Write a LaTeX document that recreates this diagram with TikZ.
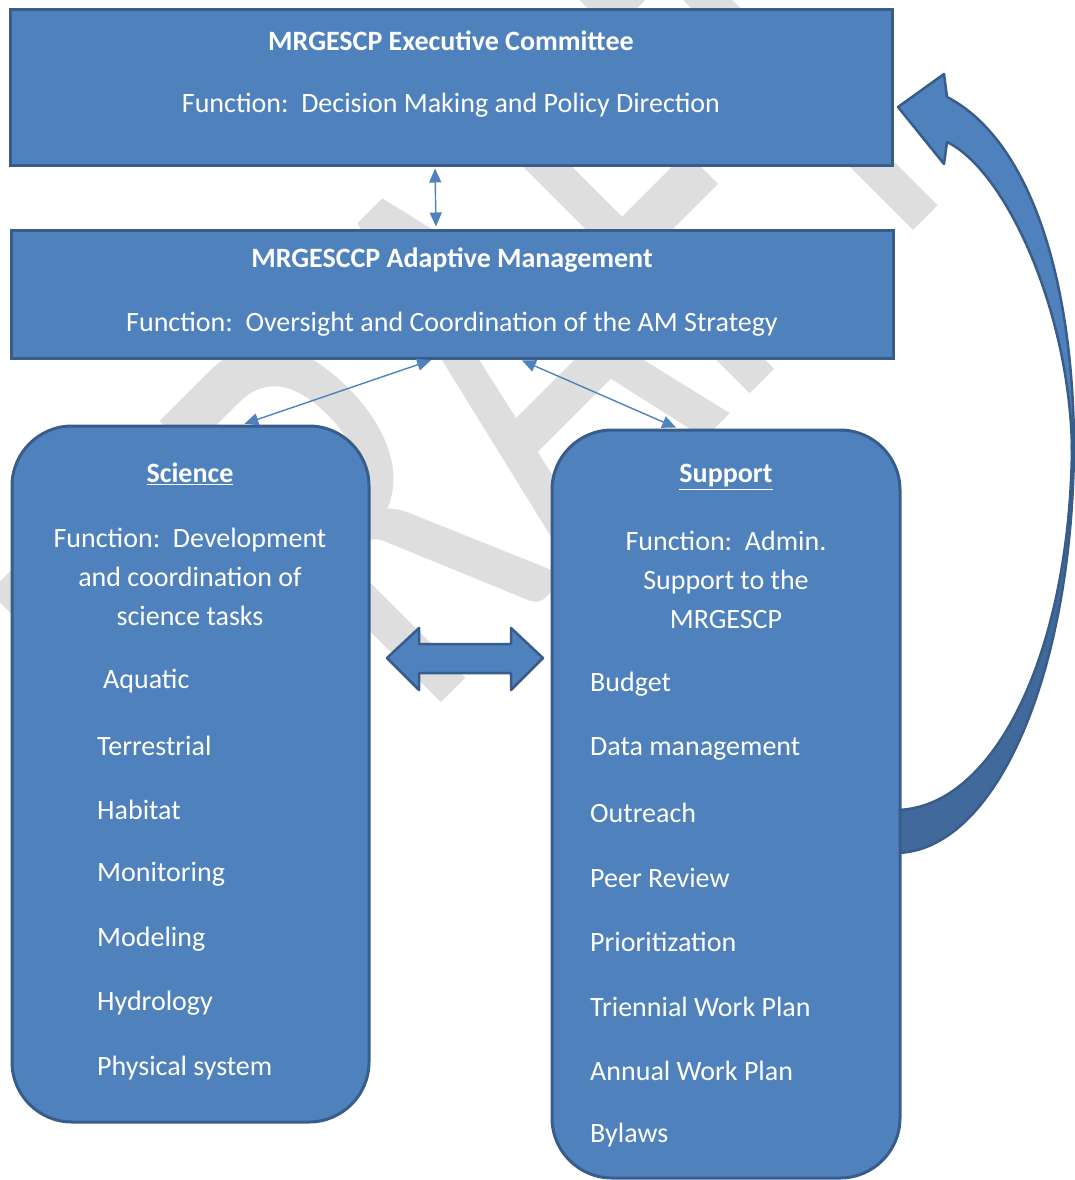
\documentclass[tikz,border=0pt]{standalone}
\usepackage{fontspec}
\setmainfont{Carlito}
\usetikzlibrary{arrows.meta, positioning}
\definecolor{boxblue}{HTML}{4F81BD}
\definecolor{boxedge}{HTML}{385D8A}
\definecolor{boxback}{HTML}{41699B}
\definecolor{wmgray}{HTML}{DEDEDE}

\begin{document}
\begin{tikzpicture}[x=1pt, y=-1pt, >={Triangle[length=14pt,width=12pt]},
  panel/.style={draw=boxedge, fill=boxblue, line width=3pt, inner sep=0pt},
  txt/.style={text=white, inner sep=0pt, font=\fontsize{28}{39}\selectfont},
  titletext/.style={txt, font=\fontsize{28}{39}\selectfont\bfseries},
  link/.style={<->, draw=boxblue, line width=1.4pt, shorten >=2pt, shorten <=2pt},
  bigarrow/.style={draw=boxedge, fill=boxblue, line width=2.5pt, line join=round}]
  \useasboundingbox (0,0) rectangle (1074,1180);

  % Watermark
  \node[rotate=45, xscale=0.63, text=wmgray, font=\fontsize{620}{620}\selectfont] (draft) at (482,381) {DRAFT};

  % Curved arrow back to the committee (back face first)
  \draw[fill=boxback, draw=boxedge, line width=2.5pt, line join=round]
    (1074,440) .. controls (1074,672) and (996,853) .. (895,853)
    -- (895,810) .. controls (995,810) and (1072,649) .. (1072,440) -- cycle;
  \draw[bigarrow]
    (898,107) -- (944,74) -- (947,97)
    .. controls (1030,140) and (1074,280) .. (1074,450)
    -- (1072,450) .. controls (1070,310) and (1005,170) .. (947,142)
    -- (944,164) -- cycle;

  % Boxes
  \node[panel, minimum width=882, minimum height=155] (exec) at (451,87.5) {};
  \node[panel, minimum width=882, minimum height=128] (adapt) at (452,294) {};
  \node[panel, rounded corners=60pt, minimum width=357, minimum height=696] (science) at (190.5,774) {};
  \node[panel, rounded corners=60pt, minimum width=348, minimum height=748] (support) at (726,804) {};

  % Top two boxes
  \node[titletext] (execname) at (451,41) {MRGESCP Executive Committee};
  \node[txt] (execfn) at (451,105) {Function:\ \ Decision Making and Policy Direction};
  \node[titletext] (adaptname) at (452,260) {MRGESCCP Adaptive Management};
  \node[txt] (adaptfn) at (452,324) {Function:\ \ Oversight and Coordination of the AM Strategy};

  % Science column
  \node[titletext] (sciname) at (190,474) {\underline{Science}};
  \node[txt, align=center] (scifn) at (190,577) {Function:\ \ Development\\and coordination of\\science tasks};
  \foreach \lbl/\xx [count=\i from 0] in {Aquatic/103, Terrestrial/97, Habitat/97, Monitoring/97,
      Modeling/97, Hydrology/97, Physical system/97}
    \node[txt, anchor=west] (sci\i) at (\xx,{681+64.5*\i}) {\lbl};

  % Support column
  \node[titletext] (supname) at (726,477) {\underline{Support}};
  \node[txt, align=center] (supfn) at (726,580) {Function:\ \ Admin.\\Support to the\\MRGESCP};
  \foreach \lbl [count=\i from 0] in {Budget, Data management, Outreach, Peer Review,
      Prioritization, Triennial Work Plan, Annual Work Plan, Bylaws}
    \node[txt, anchor=west] (sup\i) at (590,{684+64.5*\i}) {\lbl};

  % Connectors
  \draw[link] ([xshift=-16pt]exec.south) -- ([xshift=-16pt]adapt.north);
  \draw[link] ([xshift=-19pt]adapt.south) -- ([xshift=52pt]science.north);
  \draw[link] ([xshift=68pt]adapt.south) -- ([xshift=-48pt]support.north);

  % Two-way block arrow between the columns
  \draw[bigarrow] (387,658) -- (419,628) -- (419,644) -- (511,644) -- (511,628) -- (543,658)
    -- (511,690) -- (511,673) -- (419,673) -- (419,690) -- cycle;
\end{tikzpicture}
\end{document}
